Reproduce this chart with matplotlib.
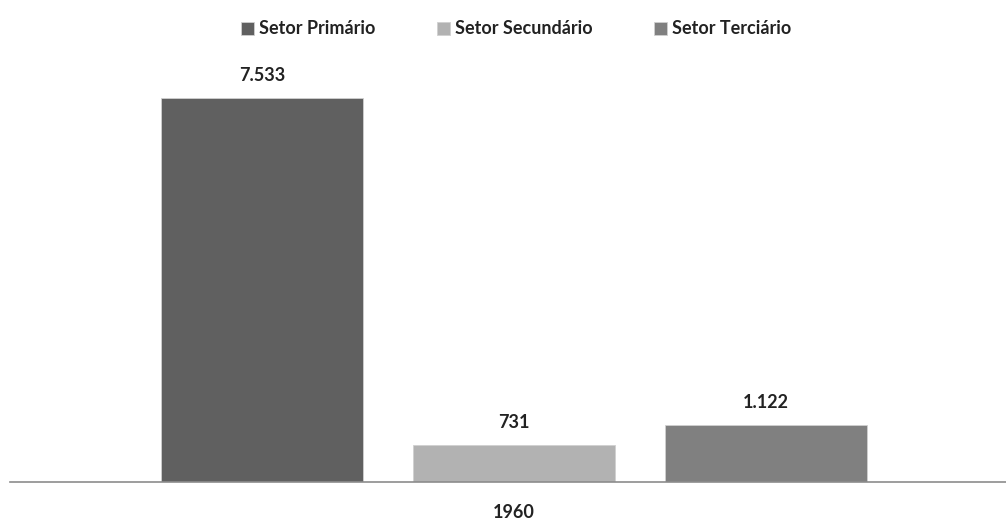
import matplotlib
matplotlib.use("Agg")
import matplotlib.pyplot as plt

# dados
setores = ["Setor Primário", "Setor Secundário", "Setor Terciário"]
valores = [7533, 731, 1122]
rotulos = ["7.533", "731", "1.122"]
ano = "1960"
cores = ["#606060", "#b2b2b2", "#808080"]

plt.rcParams['font.family'] = ['Lato', 'DejaVu Sans']
fs = 13

fig = plt.figure(figsize=(10.06, 5.2), dpi=100)
ax = fig.add_axes([10/1006, 38/520, 996/1006, 422/520])

pos = [-1, 0, 1]
for p, v, r, c, s in zip(pos, valores, rotulos, cores, setores):
    ax.bar(p, v, width=0.8, color=c, label=s, edgecolor="#d0d0d0", linewidth=0.6)
    ax.text(p, v + 270, r, ha="center", va="bottom", fontsize=fs, fontweight="bold", color="#222222")

ax.set_xlim(-2.0, 1.952)
ax.set_ylim(0, 7533*422/384)
ax.set_yticks([])
ax.set_xticks([0])
ax.set_xticklabels([ano], fontsize=fs, fontweight="bold", color="#222222")
ax.tick_params(axis="x", length=0, pad=16)
for s in ["top", "right", "left"]:
    ax.spines[s].set_visible(False)
ax.spines["bottom"].set_color("#8c8c8c")
ax.spines["bottom"].set_linewidth(1.2)

leg = fig.legend(loc="center", bbox_to_anchor=(516/1006, 1 - 29/520), ncol=3, frameon=False,
                 handlelength=0.75, handleheight=0.75, handletextpad=0.25, columnspacing=3.4,
                 prop={"weight": "bold", "size": fs})
for t in leg.get_texts():
    t.set_color("#222222")

fig.savefig("out.png", dpi=100)
